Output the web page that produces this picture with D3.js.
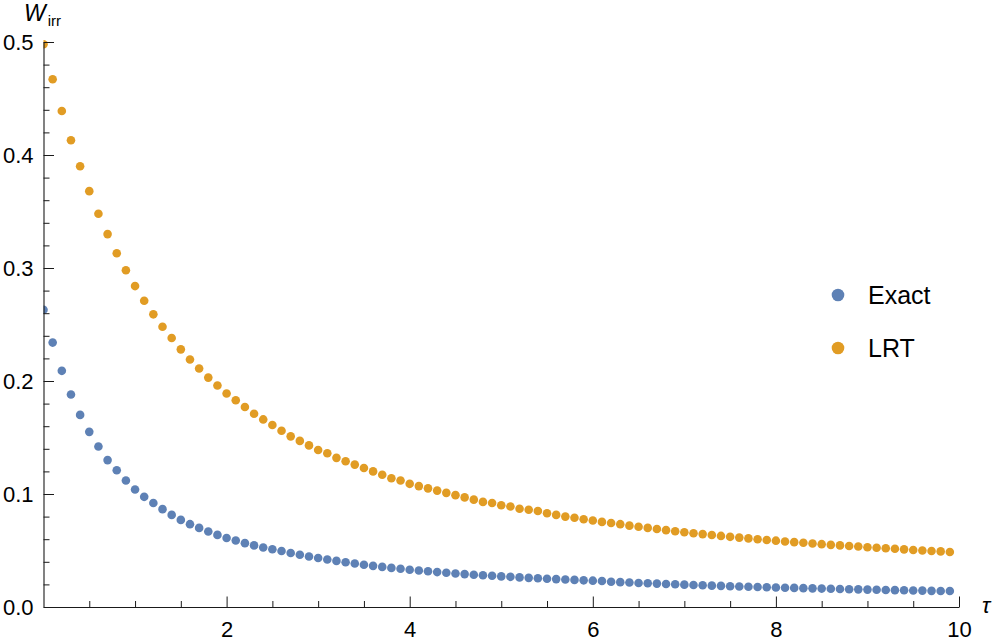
<!DOCTYPE html>
<html>
<head>
<meta charset="utf-8">
<script src="https://cdn.jsdelivr.net/npm/d3@7"></script>
<style>
body { margin: 0; background: #fff; }
svg { display: block; font-family: "Liberation Sans", Arial, sans-serif; }
</style>
</head>
<body>
<main></main>
<script>
const tau = [
    0.0, 0.1, 0.2, 0.3, 0.4, 0.5, 0.6, 0.7, 0.8, 0.9,
    1.0, 1.1, 1.2, 1.3, 1.4, 1.5, 1.6, 1.7, 1.8, 1.9,
    2.0, 2.1, 2.2, 2.3, 2.4, 2.5, 2.6, 2.7, 2.8, 2.9,
    3.0, 3.1, 3.2, 3.3, 3.4, 3.5, 3.6, 3.7, 3.8, 3.9,
    4.0, 4.1, 4.2, 4.3, 4.4, 4.5, 4.6, 4.7, 4.8, 4.9,
    5.0, 5.1, 5.2, 5.3, 5.4, 5.5, 5.6, 5.7, 5.8, 5.9,
    6.0, 6.1, 6.2, 6.3, 6.4, 6.5, 6.6, 6.7, 6.8, 6.9,
    7.0, 7.1, 7.2, 7.3, 7.4, 7.5, 7.6, 7.7, 7.8, 7.9,
    8.0, 8.1, 8.2, 8.3, 8.4, 8.5, 8.6, 8.7, 8.8, 8.9,
    9.0, 9.1, 9.2, 9.3, 9.4, 9.5, 9.6, 9.7, 9.8, 9.9
];

const exact = [
    0.263, 0.234, 0.209, 0.188, 0.170, 0.155, 0.142, 0.130, 0.121, 0.112,
    0.104, 0.0975, 0.092, 0.0866, 0.0815, 0.0771, 0.0733, 0.0700, 0.0668, 0.0638,
    0.0610, 0.0588, 0.0565, 0.0545, 0.0527, 0.0511, 0.0496, 0.0478, 0.0462, 0.0447,
    0.0433, 0.0420, 0.0408, 0.0396, 0.0385, 0.0374, 0.0364, 0.0355, 0.0346, 0.0338,
    0.0330, 0.0323, 0.0316, 0.0309, 0.0303, 0.0297, 0.0291, 0.0286, 0.0281, 0.0276,
    0.0271, 0.0267, 0.0262, 0.0258, 0.0254, 0.0250, 0.0247, 0.0243, 0.0240, 0.0236,
    0.0233, 0.0230, 0.0224, 0.0220, 0.0217, 0.0213, 0.0210, 0.0207, 0.0204, 0.0201,
    0.0198, 0.0195, 0.0192, 0.0189, 0.0187, 0.0184, 0.0182, 0.0179, 0.0177, 0.0175,
    0.0173, 0.0171, 0.0169, 0.0167, 0.0165, 0.0163, 0.0161, 0.0159, 0.0157, 0.0156,
    0.0154, 0.0152, 0.0151, 0.0149, 0.0148, 0.0146, 0.0145, 0.0143, 0.0142, 0.0141
];

const lrt = [
    0.498, 0.467, 0.439, 0.413, 0.390, 0.368, 0.348, 0.330, 0.313, 0.298,
    0.284, 0.271, 0.259, 0.248, 0.238, 0.228, 0.219, 0.211, 0.203, 0.196,
    0.189, 0.183, 0.177, 0.171, 0.166, 0.161, 0.156, 0.151, 0.147, 0.143,
    0.139, 0.136, 0.132, 0.129, 0.126, 0.123, 0.120, 0.117, 0.114, 0.112,
    0.109, 0.107, 0.105, 0.103, 0.101, 0.099, 0.097, 0.095, 0.093, 0.092,
    0.090, 0.089, 0.087, 0.086, 0.085, 0.083, 0.0815, 0.080, 0.079, 0.0777,
    0.0766, 0.0753, 0.0743, 0.0733, 0.0720, 0.0710, 0.0700, 0.0690, 0.0680, 0.0671,
    0.0662, 0.0653, 0.0645, 0.0637, 0.0629, 0.0621, 0.0614, 0.0607, 0.0600, 0.0593,
    0.0587, 0.0580, 0.0574, 0.0568, 0.0562, 0.0556, 0.0550, 0.0545, 0.0540, 0.0535,
    0.0529, 0.0524, 0.0520, 0.0515, 0.0510, 0.0505, 0.0500, 0.0496, 0.0492, 0.0487
];

const seriesNames = ["Exact", "LRT"];
const seriesColors = ["#5e81b5", "#e19c24"];

const xMajorTicks = [2, 4, 6, 8, 10];
const xMinorTicks = [0.5, 1, 1.5, 2.5, 3, 3.5, 4.5, 5, 5.5, 6.5, 7, 7.5, 8.5, 9, 9.5];
const yMajorTicks = [0, 0.1, 0.2, 0.3, 0.4, 0.5];
const yMinorTicks = [0.02, 0.04, 0.06, 0.08, 0.12, 0.14, 0.16, 0.18, 0.22, 0.24, 0.26, 0.28,
                     0.32, 0.34, 0.36, 0.38, 0.42, 0.44, 0.46, 0.48];

const svgSize = {
    width: 996,
    height: 640
};

// where the axes sit in the picture
const plot = {
    left: 43.5,
    right: 959,
    top: 42,
    bottom: 607
};

const createCanvas = () => {
    return d3.select("main")
            .append("svg")
            .attr("width", svgSize.width)
            .attr("height", svgSize.height);
};

const defineScales = () => {
    const xScale = d3.scaleLinear()
                    .domain([0, 10])
                    .range([plot.left, plot.right]);

    const yScale = d3.scaleLinear()
                    .domain([0, 0.5])
                    .range([plot.bottom, plot.top]);

    return {xScale, yScale};
};

const createAxes = (scales, svg) => {
    const axisColor = "#1a1a1a";

    // minor ticks first, no labels, no domain line
    svg.append("g")
        .attr("transform", `translate(0, ${plot.bottom})`)
        .style("color", axisColor)
        .call(d3.axisBottom(scales.xScale).tickValues(xMinorTicks).tickSize(-6).tickFormat(""))
        .call(g => g.select(".domain").remove());

    svg.append("g")
        .attr("transform", `translate(${plot.left}, 0)`)
        .style("color", axisColor)
        .call(d3.axisLeft(scales.yScale).tickValues(yMinorTicks).tickSize(-6).tickFormat(""))
        .call(g => g.select(".domain").remove());

    const xAxis = svg.append("g")
        .attr("id", "x-axis")
        .attr("transform", `translate(0, ${plot.bottom})`)
        .style("color", axisColor)
        .call(d3.axisBottom(scales.xScale)
                .tickValues(xMajorTicks)
                .tickSize(-10.5)
                .tickSizeOuter(0)
                .tickPadding(14)
                .tickFormat(d3.format("d")));

    const yAxis = svg.append("g")
        .attr("id", "y-axis")
        .attr("transform", `translate(${plot.left}, 0)`)
        .style("color", axisColor)
        .call(d3.axisLeft(scales.yScale)
                .tickValues(yMajorTicks)
                .tickSize(-10.5)
                .tickSizeOuter(0)
                .tickPadding(10)
                .tickFormat(d3.format(".1f")));

    [xAxis, yAxis].forEach(g => {
        g.selectAll("text")
            .attr("fill", "#000")
            .style("font-size", "22px")
            .style("font-family", "\"Liberation Sans\", Arial, sans-serif");
        g.select(".domain").attr("stroke-width", 1.1);
    });

    // axis labels
    const yLabel = svg.append("text")
        .attr("x", 24)
        .attr("y", 21)
        .attr("fill", "#000");
    yLabel.append("tspan")
        .style("font-size", "23px")
        .style("font-style", "italic")
        .text("W");
    yLabel.append("tspan")
        .attr("dx", 2)
        .attr("dy", 5)
        .style("font-size", "15px")
        .text("irr");

    svg.append("text")
        .attr("x", 982)
        .attr("y", 613)
        .attr("fill", "#000")
        .style("font-size", "22px")
        .style("font-style", "italic")
        .text("τ");
};

const createPoints = (scales, svg) => {
    svg.append("clipPath")
        .attr("id", "plot-clip")
        .append("rect")
        .attr("x", plot.left)
        .attr("y", 0)
        .attr("width", svgSize.width - plot.left)
        .attr("height", svgSize.height);

    const series = [exact, lrt];
    series.forEach((values, s) => {
        svg.append("g")
            .attr("clip-path", "url(#plot-clip)")
            .selectAll("circle")
            .data(values)
            .enter()
            .append("circle")
            .attr("cx", (d, i) => scales.xScale(tau[i]))
            .attr("cy", (d) => scales.yScale(d))
            .attr("r", 4.3)
            .attr("fill", seriesColors[s]);
    });
};

const createLegend = (svg) => {
    const legend = svg.append("g")
        .attr("transform", "translate(838, 295)");

    const rows = legend.selectAll("g")
        .data(seriesNames)
        .enter()
        .append("g")
        .attr("transform", (d, i) => `translate(0, ${i * 53})`);

    rows.append("circle")
        .attr("r", 6.3)
        .attr("fill", (d, i) => seriesColors[i]);

    rows.append("text")
        .attr("x", 30)
        .attr("y", 9)
        .attr("fill", "#000")
        .style("font-size", "25px")
        .text((d) => d);
};

const driver = () => {
    const svg = createCanvas();
    const scales = defineScales();
    createPoints(scales, svg);
    createAxes(scales, svg);
    createLegend(svg);
};

driver();
</script>
</body>
</html>
